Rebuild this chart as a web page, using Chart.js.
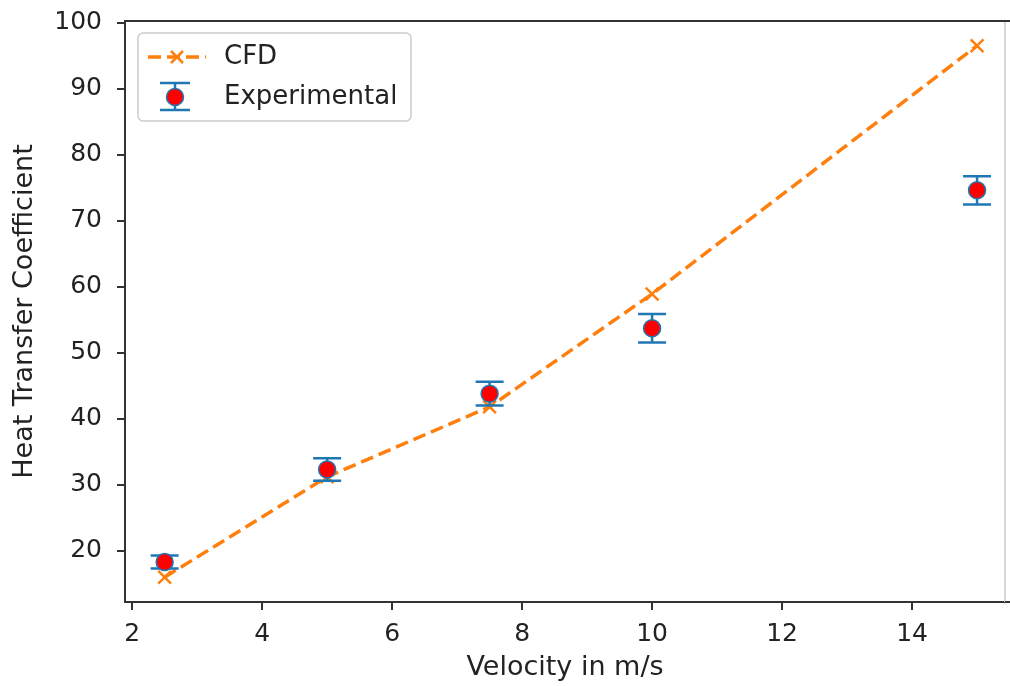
<!DOCTYPE html>
<html>
<head>
<meta charset="utf-8">
<script src="https://cdn.jsdelivr.net/npm/chart.js@4.4.0/dist/chart.umd.min.js"></script>
<style>
  html, body { margin: 0; padding: 0; background: #fff; overflow: hidden; }
  canvas { display: block; }
</style>
</head>
<body>
<canvas id="chart" width="1010" height="686"></canvas>
<script>
// velocity (m/s) vs heat transfer coefficient
const velocity = [2.5, 5, 7.5, 10, 15];
const cfdValues = [16.0, 31.2, 41.8, 58.9, 96.5];
const expValues = [18.3, 32.3, 43.8, 53.7, 74.6];
const expErrors = [1.0, 1.7, 1.8, 2.15, 2.15];
const xTicks = [2, 4, 6, 8, 10, 12, 14];
const yTicks = [20, 30, 40, 50, 60, 70, 80, 90, 100];

const TICK_FONT = { family: 'DejaVu Sans', size: 25 };
const LABEL_FONT = { family: 'DejaVu Sans', size: 27 };
const LEGEND_FONT = { family: 'DejaVu Sans', size: 26 };
const INK = '#222';
const ORANGE = '#ff7f0e';
const BLUE = '#1f77b4';

// vertical error bars with caps, drawn just before the experimental markers
const errorBars = {
  id: 'errorBars',
  beforeDatasetDraw(chart, args) {
    const ds = chart.data.datasets[args.index];
    if (!ds.errors) return;
    const { x, y } = chart.scales;
    const ctx = chart.ctx;
    ctx.save();
    ctx.strokeStyle = BLUE;
    ctx.lineWidth = 2.5;
    ds.data.forEach((p, i) => {
      const px = x.getPixelForValue(p.x);
      const top = y.getPixelForValue(p.y + ds.errors[i]);
      const bot = y.getPixelForValue(p.y - ds.errors[i]);
      ctx.beginPath();
      ctx.moveTo(px, top); ctx.lineTo(px, bot);
      ctx.moveTo(px - 14, top); ctx.lineTo(px + 14, top);
      ctx.moveTo(px - 14, bot); ctx.lineTo(px + 14, bot);
      ctx.stroke();
    });
    ctx.restore();
  }
};

// top and right spines (chart.js only draws the axis borders)
const frame = {
  id: 'frame',
  afterDatasetsDraw(chart) {
    const { left, right, top, bottom } = chart.chartArea;
    const ctx = chart.ctx;
    ctx.save();
    ctx.lineWidth = 2;
    ctx.strokeStyle = '#d8d8d8';
    ctx.beginPath();
    ctx.moveTo(right, top); ctx.lineTo(right, bottom);
    ctx.stroke();
    ctx.strokeStyle = '#333';
    ctx.beginPath();
    ctx.moveTo(left, top); ctx.lineTo(1010, top);
    ctx.moveTo(right, bottom); ctx.lineTo(1010, bottom);
    ctx.stroke();
    ctx.restore();
  }
};

// legend box in the upper left, matplotlib style handles
const legendBox = {
  id: 'legendBox',
  afterDraw(chart) {
    const ctx = chart.ctx;
    const [cfd, exp] = chart.data.datasets;
    const bx = 138, by = 33, bw = 273, bh = 88;
    ctx.save();
    ctx.fillStyle = 'rgba(255,255,255,0.8)';
    ctx.strokeStyle = '#cccccc';
    ctx.lineWidth = 1.5;
    ctx.beginPath();
    ctx.roundRect(bx, by, bw, bh, 5);
    ctx.fill();
    ctx.stroke();

    // CFD handle: dashed line with x marker
    const y1 = 57;
    ctx.strokeStyle = ORANGE;
    ctx.lineWidth = 3.5;
    ctx.setLineDash([13, 6]);
    ctx.beginPath();
    ctx.moveTo(148, y1); ctx.lineTo(206, y1);
    ctx.stroke();
    ctx.setLineDash([]);
    ctx.lineWidth = 2.5;
    ctx.beginPath();
    ctx.moveTo(171, y1 - 6); ctx.lineTo(183, y1 + 6);
    ctx.moveTo(183, y1 - 6); ctx.lineTo(171, y1 + 6);
    ctx.stroke();

    // Experimental handle: error bar with red marker
    const y2 = 97, cx = 175;
    ctx.strokeStyle = BLUE;
    ctx.lineWidth = 2.5;
    ctx.beginPath();
    ctx.moveTo(cx, y2 - 14); ctx.lineTo(cx, y2 + 13);
    ctx.moveTo(cx - 15, y2 - 14); ctx.lineTo(cx + 15, y2 - 14);
    ctx.moveTo(cx - 15, y2 + 13); ctx.lineTo(cx + 15, y2 + 13);
    ctx.stroke();
    ctx.fillStyle = 'red';
    ctx.strokeStyle = BLUE;
    ctx.lineWidth = 1.5;
    ctx.beginPath();
    ctx.arc(cx, y2, 8.5, 0, Math.PI * 2);
    ctx.fill();
    ctx.stroke();

    ctx.fillStyle = INK;
    ctx.font = LEGEND_FONT.size + 'px ' + LEGEND_FONT.family;
    ctx.textBaseline = 'middle';
    ctx.fillText(cfd.label, 224, y1);
    ctx.fillText(exp.label, 224, y2);
    ctx.restore();
  }
};

new Chart(document.getElementById('chart'), {
  type: 'scatter',
  data: {
    datasets: [
      {
        label: 'CFD',
        data: velocity.map((v, i) => ({ x: v, y: cfdValues[i] })),
        showLine: true,
        borderColor: ORANGE,
        borderWidth: 3.5,
        borderDash: [13, 6],
        pointStyle: 'crossRot',
        pointRadius: 9,
        pointBorderWidth: 2.5,
        pointBorderColor: ORANGE,
        order: 1
      },
      {
        label: 'Experimental',
        data: velocity.map((v, i) => ({ x: v, y: expValues[i] })),
        errors: expErrors,
        showLine: false,
        pointStyle: 'circle',
        pointRadius: 8.5,
        backgroundColor: 'red',
        pointBorderColor: BLUE,
        pointBorderWidth: 1.5,
        order: 0
      }
    ]
  },
  options: {
    responsive: false,
    animation: false,
    events: [],
    layout: { autoPadding: false, padding: { top: 21, right: 5, left: 0, bottom: 0 } },
    plugins: { legend: { display: false }, tooltip: { enabled: false } },
    scales: {
      x: {
        type: 'linear',
        min: 1.89,
        max: 15.43,
        afterBuildTicks: s => { s.ticks = xTicks.map(v => ({ value: v })); },
        afterFit: s => { s.height = 84; s.paddingLeft = 0; s.paddingRight = 0; },
        ticks: { font: TICK_FONT, color: INK, padding: 9, maxRotation: 0 },
        grid: { drawOnChartArea: false, tickLength: 8, color: '#333', lineWidth: 2 },
        border: { color: '#333', width: 2 },
        title: { display: true, text: 'Velocity in m/s', font: LABEL_FONT, color: INK, padding: { top: 0, bottom: 2 } }
      },
      y: {
        type: 'linear',
        min: 12.24,
        max: 100.25,
        afterBuildTicks: s => { s.ticks = yTicks.map(v => ({ value: v })); },
        afterFit: s => { s.width = 125; s.paddingTop = 0; s.paddingBottom = 0; },
        ticks: { font: TICK_FONT, color: INK, padding: 15 },
        grid: { drawOnChartArea: false, tickLength: 8, color: '#333', lineWidth: 2 },
        border: { color: '#333', width: 2 },
        title: { display: true, text: 'Heat Transfer Coefficient', font: LABEL_FONT, color: INK, padding: { top: 9, bottom: 0 } }
      }
    }
  },
  plugins: [errorBars, frame, legendBox]
});
</script>
</body>
</html>
